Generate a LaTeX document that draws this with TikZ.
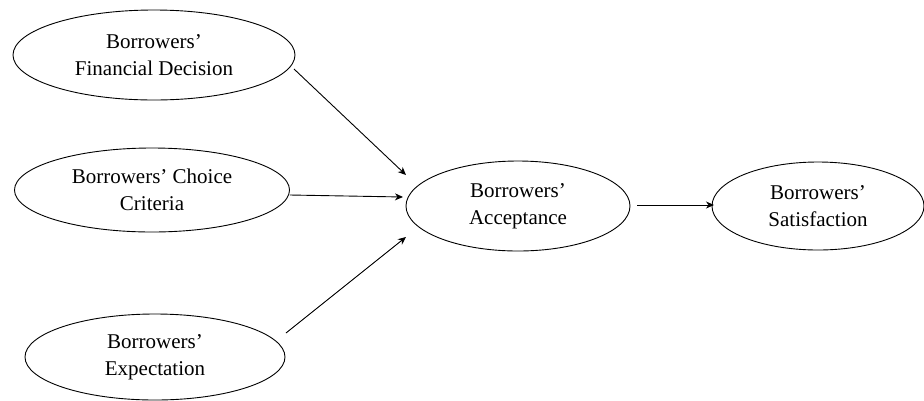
\documentclass[tikz,border=0pt]{standalone}
\usepackage{fontspec}
\setmainfont{Liberation Serif}
\usetikzlibrary{shapes.geometric,arrows.meta}
\begin{document}
\begin{tikzpicture}[x=1pt,y=-1pt,
  oval/.style={draw, ellipse, line width=0.9pt, inner sep=0pt, align=center,
    font=\fontsize{21}{27}\selectfont},
  conn/.style={line width=0.9pt, -{Stealth[length=8pt,width=7pt,inset=2.5pt]}}]
\useasboundingbox (0,0) rectangle (924,400);
\node[oval, minimum width=282, minimum height=90] (fd) at (154,55) {Borrowers’\\Financial Decision};
\node[oval, minimum width=275, minimum height=84] (cc) at (152,190) {Borrowers’ Choice\\Criteria};
\node[oval, minimum width=260, minimum height=86] (ex) at (155,357) {Borrowers’\\Expectation};
\node[oval, minimum width=224, minimum height=90] (ac) at (518,206) {Borrowers’\\Acceptance};
\node[oval, minimum width=212, minimum height=88] (sa) at (818,206) {Borrowers’\\Satisfaction};
\coordinate (fd1) at (294,69);  \coordinate (fd2) at (406,175);
\coordinate (cc1) at (290,195); \coordinate (cc2) at (403,197);
\coordinate (ex1) at (286,333); \coordinate (ex2) at (406,237);
\coordinate (ac1) at (637,205); \coordinate (ac2) at (714,205);
\draw[conn] (fd1) -- (fd2);
\draw[conn] (cc1) -- (cc2);
\draw[conn] (ex1) -- (ex2);
\draw[conn] (ac1) -- (ac2);
\end{tikzpicture}
\end{document}
